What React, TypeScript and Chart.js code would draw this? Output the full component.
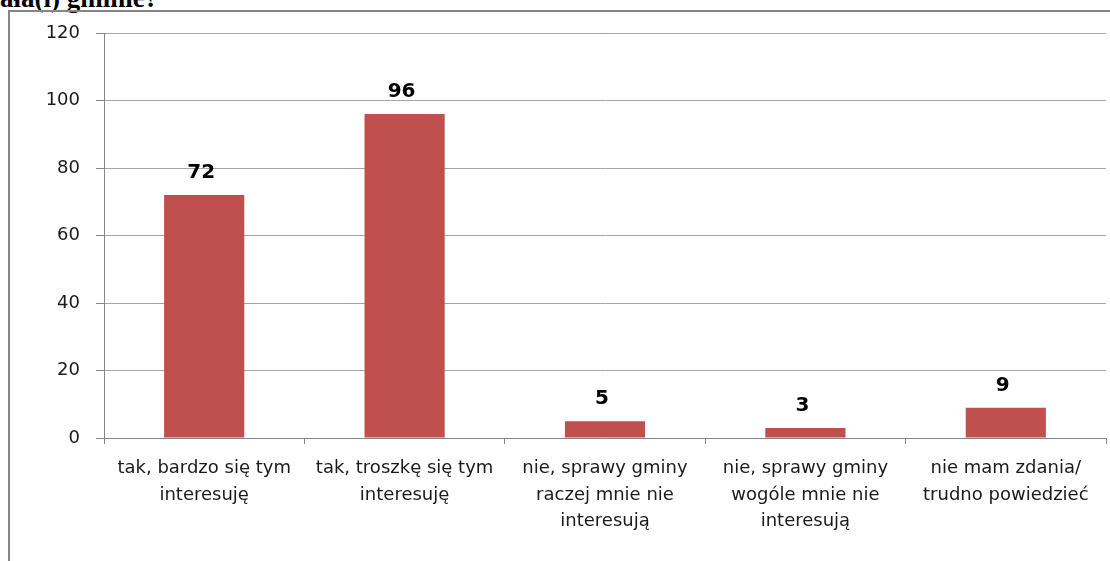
import React, { useEffect, useRef } from "react";
import { Chart, registerables } from "chart.js";

Chart.register(...registerables);

const categories: string[][] = [
  ["tak, bardzo się tym", "interesuję"],
  ["tak, troszkę się tym", "interesuję"],
  ["nie, sprawy gminy", "raczej mnie nie", "interesują"],
  ["nie, sprawy gminy", "wogóle mnie nie", "interesują"],
  ["nie mam zdania/", "trudno powiedzieć"],
];
const values: number[] = [72, 96, 5, 3, 9];
const titleText = "ała(i) gminie?";

const FONT = "'DejaVu Sans', 'Noto Sans', sans-serif";

const valueLabels = {
  id: "valueLabels",
  afterDatasetsDraw(chart: any) {
    const ctx = chart.ctx;
    const meta = chart.getDatasetMeta(0);
    ctx.save();
    ctx.font = `bold 20px ${FONT}`;
    ctx.fillStyle = "#000";
    ctx.textAlign = "center";
    ctx.textBaseline = "alphabetic";
    meta.data.forEach((bar: any, i: number) => {
      ctx.fillText(String(values[i]), bar.x - 3, bar.y - 17);
    });
    ctx.restore();
  },
};

export default function App() {
  const ref = useRef<HTMLCanvasElement | null>(null);
  useEffect(() => {
    if (!ref.current) return;
    const chart = new Chart(ref.current, {
      type: "bar",
      data: {
        labels: categories,
        datasets: [
          {
            data: values,
            backgroundColor: "#c0504d",
            borderWidth: 0,
            barPercentage: 0.4,
            categoryPercentage: 1,
          },
        ],
      },
      options: {
        animation: false,
        responsive: false,
        maintainAspectRatio: false,
        layout: { padding: { left: 0, top: 33, right: 4, bottom: 0 } },
        plugins: { legend: { display: false }, tooltip: { enabled: false }, title: { display: false } },
        scales: {
          x: {
            afterFit: (s: any) => {
              s.height = 123;
            },
            grid: {
              display: true,
              drawOnChartArea: false,
              drawTicks: true,
              tickLength: 6,
              color: "#868686",
              offset: true,
            },
            border: { display: true, color: "#868686", width: 1 },
            ticks: {
              color: "#1a1a1a",
              font: { family: FONT, size: 18, lineHeight: 1.48 },
              padding: 11,
              maxRotation: 0,
              autoSkip: false,
            },
          },
          y: {
            min: 0,
            max: 120,
            afterFit: (s: any) => {
              s.width = 104;
            },
            grid: {
              color: "#a6a6a6",
              drawTicks: true,
              tickLength: 8,
              tickColor: "#868686",
            },
            border: { display: true, color: "#868686", width: 1 },
            ticks: {
              stepSize: 20,
              color: "#1a1a1a",
              font: { family: FONT, size: 18 },
              padding: 16,
            },
          },
        },
      },
      plugins: [valueLabels],
    });
    return () => chart.destroy();
  }, []);

  return (
    <div
      style={{
        position: "fixed",
        left: 0,
        top: 0,
        width: 1110,
        height: 561,
        background: "#fff",
        overflow: "hidden",
      }}
    >
      <div
        style={{
          position: "absolute",
          left: 0,
          top: -15,
          fontFamily: "'Liberation Serif', 'DejaVu Serif', serif",
          fontWeight: "bold",
          fontSize: 27,
          lineHeight: "27px",
          color: "#000",
          whiteSpace: "nowrap",
        }}
      >
        {titleText}
      </div>
      <div
        style={{
          position: "absolute",
          left: 8,
          top: 10,
          width: 1200,
          height: 700,
          borderLeft: "2px solid #868686",
          borderTop: "2px solid #868686",
        }}
      />
      <canvas
        ref={ref}
        width={1110}
        height={561}
        style={{ position: "absolute", left: 0, top: 0, width: 1110, height: 561 }}
      />
    </div>
  );
}
